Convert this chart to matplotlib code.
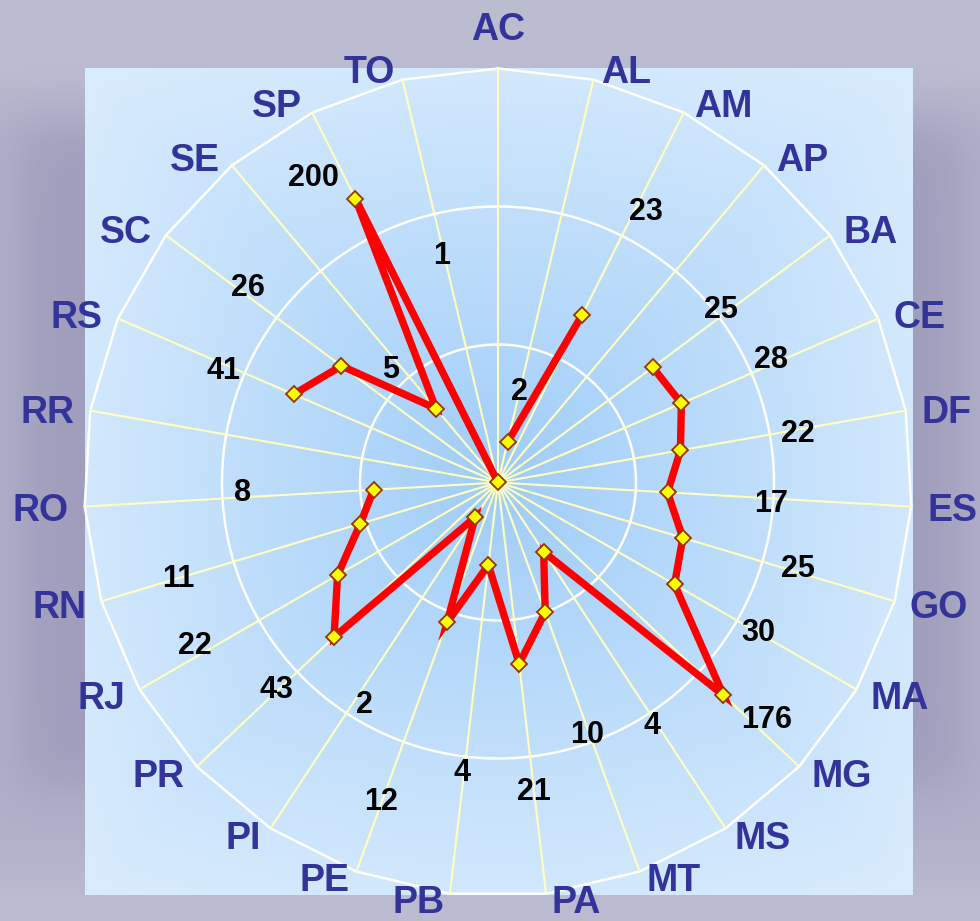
import numpy as np
import matplotlib
matplotlib.use("Agg")
import matplotlib.pyplot as plt

# states (clockwise from the top) and their values; None = no value
states = ["AC", "AL", "AM", "AP", "BA", "CE", "DF", "ES", "GO", "MA", "MG", "MS",
          "MT", "PA", "PB", "PE", "PI", "PR", "RJ", "RN", "RO", "RR", "RS", "SC",
          "SE", "SP", "TO"]
values = [None, 2, 23, None, 25, 28, 22, 17, 25, 30, 176, 4,
          10, 21, 4, 12, 2, 43, 22, 11, 8, None, 41, 26,
          5, 200, 1]

# where the value labels sit: pixels from the centre, degrees off the spoke
label_px = [None, 96, 311, None, 284, 301, 304, 274, 311, 299, 356, 285,
            264, 308, 289, 337, 256, 301, 343, 333, 256, None, 298, 319,
            158, 359, 237]
label_dang = [0, -0.7, 1.7, 0, -1.6, -1.5, 0.2, 0.5, -1.1, -0.5, -2.3, 0.6,
              0.3, 0, 0.4, 0.3, -2, 0.6, 2.2, 0.5, 1.7, 0, -0.6, 1.7,
              -2.7, -4.2, -0.4]

W, H = 980, 921
CX, CY, R_PX = 498, 482.5, 414
RMAX = 1000.0

CAT_COLOR = "#333399"
FONT = "Liberation Sans"


def px_to_r(px):
    # log radial axis from 1 to 1000 spans R_PX pixels
    return 10 ** (np.log10(RMAX) * px / R_PX)


fig = plt.figure(figsize=(W / 100, H / 100), dpi=100)

# ---- background -------------------------------------------------------
bg = fig.add_axes([0, 0, 1, 1])
bg.axis("off")

yy, xx = np.mgrid[0:H, 0:W].astype(float)


def sig(v):
    return 1.0 / (1.0 + np.exp(-v))


def soft_box(x0, x1, y0, y1, soft):
    return (sig((xx - x0) / soft) * sig((x1 - xx) / soft) *
            sig((yy - y0) / soft) * sig((y1 - yy) / soft))


outer = np.zeros((H, W, 3))
outer[:] = np.array([189, 189, 210]) / 255.0
outer -= soft_box(-60, W + 60, 95, 870, 18)[..., None] * (np.array([13, 14, 9]) / 255.0)
outer -= soft_box(22, 958, 128, 785, 14)[..., None] * (np.array([16, 17, 13]) / 255.0)
bg.imshow(np.clip(outer, 0, 1), extent=[0, W, H, 0], interpolation="bilinear")

# inner light-blue panel with a radial gradient
x0p, x1p, y0p, y1p = 85, 912, 69, 895
py, px = np.mgrid[y0p:y1p, x0p:x1p].astype(float)
dxn = (px - CX) / ((x1p - x0p) / 2)
dyn = (py - CY) / ((y1p - y0p) / 2)
d = 0.5 * np.maximum(np.abs(dxn), np.abs(dyn)) + 0.5 * np.sqrt(dxn ** 2 + dyn ** 2) / 1.3
d = np.clip(d, 0, 1) ** 0.9
c_in = np.array([158, 204, 249]) / 255.0
c_out = np.array([216, 235, 253]) / 255.0
panel = c_in + (c_out - c_in) * d[..., None]
bg.imshow(panel, extent=[x0p, x1p, y1p, y0p], interpolation="bilinear")
bg.set_xlim(0, W)
bg.set_ylim(H, 0)

# ---- radar ------------------------------------------------------------
ax = fig.add_axes([(CX - R_PX) / W, (H - CY - R_PX) / H, 2 * R_PX / W, 2 * R_PX / H],
                  projection="polar")
ax.patch.set_alpha(0)
ax.set_theta_zero_location("N")
ax.set_theta_direction(-1)
ax.set_rscale("log")
ax.set_rlim(1, RMAX)
ax.grid(False)
ax.set_xticks([])
ax.set_yticks([])
ax.spines["polar"].set_visible(False)

n = len(states)
theta = np.arange(n) * 2 * np.pi / n

# rings
circ = np.linspace(0, 2 * np.pi, 400)
for rv in [10, 100]:
    ax.plot(circ, np.full_like(circ, rv), color="white", lw=1.8, zorder=2)
ax.plot(np.append(theta, theta[0]), np.full(n + 1, RMAX), color="white", lw=1.8,
        zorder=2, clip_on=False)

# spokes
for th in theta:
    ax.plot([th, th], [1, RMAX], color="#ffffc0", lw=1.5, zorder=3, clip_on=False)

# data line
vals = np.array([np.nan if v is None else v for v in values], dtype=float)
ax.plot(np.append(theta, theta[0]), np.append(vals, vals[0]), color="#ff0000", lw=5.3,
        solid_joinstyle="miter", marker="D", ms=8.5, mfc="#ffff00", mec="#993300",
        mew=1.3, zorder=5, clip_on=False)

# value labels
for th, v, lp, da in zip(theta, values, label_px, label_dang):
    if v is None:
        continue
    ax.text(th + np.deg2rad(da), px_to_r(lp), str(v), ha="center", va="center_baseline",
            fontsize=22, fontweight="bold", color="black", family=FONT, zorder=6)

# category labels
for th, name in zip(theta, states):
    s, c = np.sin(th), np.cos(th)
    if abs(s) < 0.05:
        ax.annotate(name, (th, px_to_r(457)), ha="center", va="center_baseline",
                    fontsize=27, fontweight="bold", color=CAT_COLOR, family=FONT,
                    annotation_clip=False)
    else:
        rp = 425 - 6 * max(0.0, -c) ** 4   # pull the bottom ones in a touch
        ax.annotate(name, (th, px_to_r(rp)), xytext=(3.5 if s > 0 else -3.5, 0),
                    textcoords="offset points", ha="left" if s > 0 else "right",
                    va="center_baseline", fontsize=27, fontweight="bold",
                    color=CAT_COLOR, family=FONT, annotation_clip=False)

fig.savefig("out.png", dpi=100)
